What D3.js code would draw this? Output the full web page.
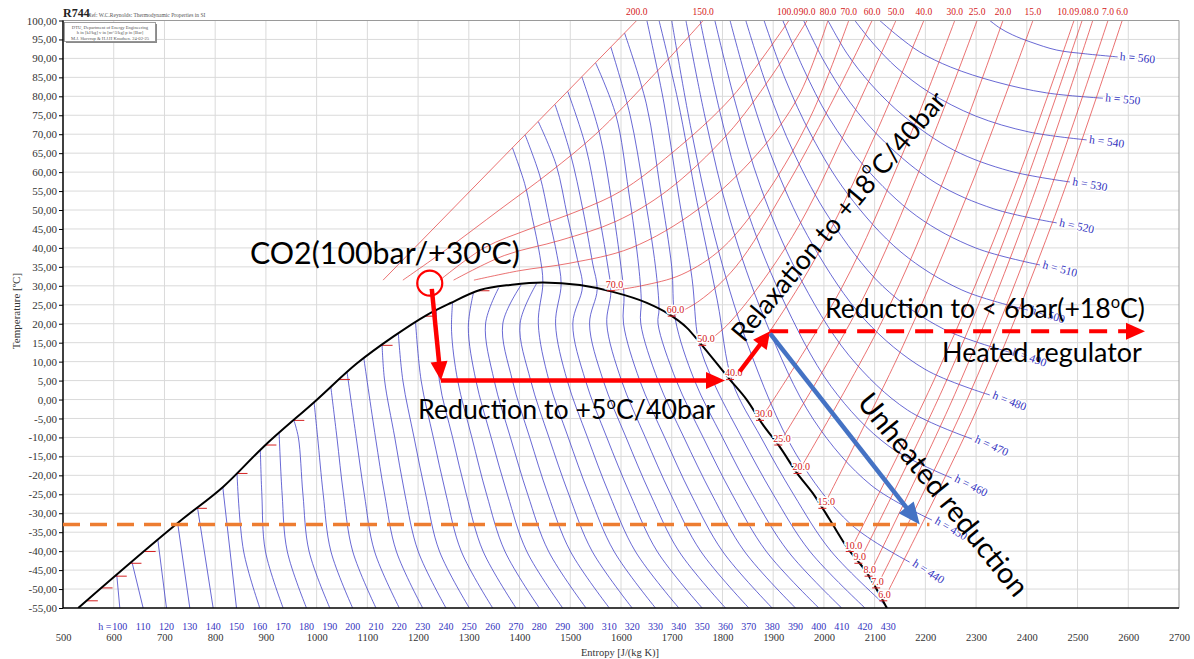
<!DOCTYPE html>
<html>
<head>
<meta charset="utf-8">
<script src="https://cdn.jsdelivr.net/npm/d3@7"></script>
<style>
  body { margin: 0; background: #fff; }
  svg { display: block; }
</style>
</head>
<body>
<svg id="chart" width="1194" height="659"></svg>
<script>
// ---------- axes ----------
const entropyTicks = [500, 600, 700, 800, 900, 1000, 1100, 1200, 1300, 1400, 1500, 1600,
  1700, 1800, 1900, 2000, 2100, 2200, 2300, 2400, 2500, 2600, 2700];
const temperatureTicks = [-55, -50, -45, -40, -35, -30, -25, -20, -15, -10, -5, 0, 5, 10, 15,
  20, 25, 30, 35, 40, 45, 50, 55, 60, 65, 70, 75, 80, 85, 90, 95, 100];

// ---------- saturation dome  [s J/(kg K), T degC] ----------
const saturatedLiquid = [[530, -55], [737, -31.4], [816, -23.0], [895, -12.5], [1000, -0.1],
  [1079, 9.5], [1151, 16.6], [1217, 22.3], [1263, 25.4], [1322, 28.9], [1385, 30.3], [1446, 30.9]];
const saturatedVapor = [[1446, 30.9], [1519, 30.2], [1584, 28.4], [1651, 25.5], [1691, 22.8],
  [1730, 18.9], [1756, 14.9], [1815, 5.2], [1848, -0.1], [1880, -6.7], [1913, -12.5],
  [1947, -19.4], [1978, -24.7], [2012, -31.8], [2045, -38.9], [2085, -45.8], [2124, -55]];

// ---------- isobars (bar) ----------
const isobarLevels = [6, 7, 8, 9, 10, 15, 20, 25, 30, 40, 50, 60, 70, 80, 90, 100, 150, 200];
const isobarPoints = [
  [[2117, -53.1], [2302, -2.5], [2455, 48.3], [2588, 100]],
  [[2103, -49.7], [2283, 0.2], [2432, 50.1], [2560, 100]],
  [[2088, -46.6], [2263, 2.9], [2407, 51.5], [2530, 100]],
  [[2068, -43.2], [2240, 4.5], [2384, 52.2], [2509, 100]],
  [[2051, -40.1], [2222, 6.6], [2368, 53.3], [2493, 100]],
  [[1997, -28.7], [2156, 14.2], [2292, 57.1], [2412, 100]],
  [[1948, -19.5], [2114, 20.5], [2244, 60.5], [2353, 100]],
  [[1910, -12.0], [2072, 25.3], [2195, 62.7], [2302, 100]],
  [[1874, -5.5], [2036, 29.7], [2155, 64.8], [2258, 100]],
  [[1815, 5.3], [1861, 12], [1983, 37.2], [2097, 68.6], [2197, 100]],
  [[1760, 14.3], [1812, 20], [1938, 43], [2045, 71.5], [2142, 100]],
  [[1700, 22], [1754, 26], [1826, 35], [1921, 55], [2012, 77.5], [2095, 100]],
  [[1580, 28.7], [1640, 30], [1720, 33], [1800, 40], [1890, 55], [1975, 75], [2049, 100]],
  [[1310, 31.5], [1400, 34], [1500, 36], [1620, 40], [1750, 50], [1870, 65], [1950, 80], [2008, 100]],
  [[1270, 31.5], [1370, 38], [1480, 42], [1590, 47], [1690, 55], [1810, 70], [1895, 85], [1967, 100]],
  [[1243, 31.5], [1330, 40], [1420, 45], [1520, 50], [1600, 55], [1700, 65], [1820, 80], [1931, 100]],
  [[1170, 31.5], [1260, 40], [1360, 50], [1460, 60], [1550, 70], [1660, 85], [1762, 100]],
  [[1131, 31.5], [1631, 100]]
];
// saturation temperature and liquid / vapour entropy for the subcritical isobars
const isobarSatT = [-53.1, -49.7, -46.6, -43.2, -40.1, -28.7, -19.5, -12.0, -5.5, 5.3, 14.3, 22.0, 28.7];
const isobarSatLiquidS = [547, 576, 604, 633, 661, 762, 842, 899, 954, 1044, 1128, 1214, 1319];
const isobarSatVaporS = [2117, 2103, 2088, 2068, 2051, 1997, 1948, 1910, 1874, 1815, 1760, 1700, 1580];

// ---------- isenthalps (kJ/kg) ----------
const isenthalpLevels = [100, 110, 120, 130, 140, 150, 160, 170, 180, 190, 200, 210, 220, 230,
  240, 250, 260, 270, 280, 290, 300, 310, 320, 330, 340, 350, 360, 370, 380, 390, 400, 410,
  420, 430, 440, 450, 460, 470, 480, 490, 500, 510, 520, 530, 540, 550, 560];
const isenthalpPoints = [
  [[612, -55], [606, -46.3]],
  [[658, -55], [636, -42.9]],
  [[704, -55], [687, -37.1]],
  [[750, -55], [726, -32.6]],
  [[796, -55], [765, -28.4]],
  [[842, -55], [815, -23.1]],
  [[888, -55], [856, -40], [843, -19.4]],
  [[934, -55], [899, -40], [892, -25], [889, -13.3]],
  [[980, -55], [942, -40], [932, -25], [926, -8.8]],
  [[1026, -55], [985, -40], [973, -25], [964, -10], [955, -5.4]],
  [[1071, -55], [1028, -40], [1013, -25], [1002, -10], [995, -0.7]],
  [[1117, -55], [1071, -40], [1053, -25], [1040, -10], [1028, 3.3]],
  [[1163, -55], [1114, -40], [1094, -25], [1078, -10], [1060, 7.2]],
  [[1209, -55], [1157, -40], [1134, -25], [1116, -10], [1093, 10.9]],
  [[1255, -55], [1200, -40], [1174, -25], [1154, -10], [1134, 5], [1129, 14.4]],
  [[1301, -55], [1242, -40], [1215, -25], [1192, -10], [1170, 5], [1161, 17.5]],
  [[1347, -55], [1285, -40], [1255, -25], [1230, -10], [1206, 5], [1195, 20.4]],
  [[1393, -55], [1328, -40], [1295, -25], [1268, -10], [1242, 5], [1236, 23.6]],
  [[1439, -55], [1371, -40], [1335, -25], [1306, -10], [1278, 5], [1266, 18], [1268, 25.7]],
  [[1485, -55], [1414, -40], [1376, -25], [1344, -10], [1314, 5], [1299, 19], [1309, 28.1]],
  [[1531, -55], [1457, -40], [1416, -25], [1382, -10], [1350, 5], [1333, 20], [1359, 29.5]],
  [[1577, -55], [1500, -40], [1456, -25], [1420, -10], [1386, 5], [1367, 20], [1403, 30.2]],
  [[1622, -55], [1543, -40], [1497, -25], [1458, -10], [1422, 5], [1401, 20], [1434, 30.7]],
  [[1668, -55], [1586, -40], [1537, -25], [1496, -10], [1458, 5], [1437, 20], [1446, 30.9], [1440, 38], [1425, 48], [1410, 57], [1386, 66.4]],
  [[1714, -55], [1628, -40], [1577, -25], [1534, -10], [1494, 5], [1471, 20], [1482, 30.5], [1474, 38], [1458, 48], [1440, 59], [1411, 69.8]],
  [[1760, -55], [1671, -40], [1618, -25], [1572, -10], [1530, 5], [1505, 20], [1524, 29.8], [1514, 37], [1495, 48], [1472, 62], [1437, 73.3]],
  [[1806, -55], [1714, -40], [1658, -25], [1610, -10], [1565, 5], [1538, 20], [1553, 29.05], [1544, 36], [1525, 50], [1500, 65], [1470, 77.8]],
  [[1852, -55], [1757, -40], [1698, -25], [1648, -10], [1601, 5], [1572, 20], [1580, 28.4], [1573, 36], [1555, 50], [1530, 67], [1495, 81.3]],
  [[1898, -55], [1800, -40], [1738, -25], [1686, -10], [1637, 5], [1605, 20], [1606, 27.45], [1600, 35], [1582, 52], [1558, 70], [1523, 85.1]],
  [[1944, -55], [1843, -40], [1779, -25], [1724, -10], [1673, 5], [1639, 20], [1640, 26], [1635, 35], [1615, 55], [1590, 75], [1550, 88.8]],
  [[1990, -55], [1886, -40], [1819, -25], [1762, -10], [1709, 5], [1673, 20], [1675, 23.9], [1668, 35], [1645, 55], [1618, 75], [1580, 93]],
  [[2035, -55], [1929, -40], [1859, -25], [1800, -10], [1745, 5], [1707, 21.2], [1700, 35], [1678, 55], [1650, 78], [1607, 96.7]],
  [[2081, -55], [1972, -40], [1900, -25], [1838, -10], [1781, 5], [1753, 15.4], [1740, 32], [1712, 55], [1685, 78], [1651, 100]],
  [[2127, -55], [2014, -40], [1940, -25], [1876, -10], [1820, 4.5], [1790, 26], [1750, 52], [1712, 79], [1675, 100]],
  [[1700, 100], [1738, 71.4], [1785, 42.9], [1850, 14.4], [1945, -14.4], [2053, -32.9], [2169, -42.9]],
  [[1728, 100], [1767, 73.7], [1815, 47.4], [1884, 21.0], [1980, -5.4], [2093, -22.6], [2213, -31.8]],
  [[1756, 100], [1795, 75.9], [1844, 51.8], [1915, 27.6], [2014, 3.5], [2128, -12.3], [2252, -20.7]],
  [[1785, 100], [1826, 78.0], [1876, 55.8], [1947, 33.6], [2049, 11.7], [2165, -2.8], [2292, -10.4]],
  [[1815, 100], [1856, 80.3], [1907, 60.6], [1978, 40.8], [2081, 21.0], [2199, 8.0], [2327, 1.2]],
  [[1846, 100], [1888, 82.5], [1941, 65.0], [2012, 47.6], [2116, 29.9], [2236, 18.6], [2366, 12.5]],
  [[1882, 100], [1923, 84.8], [1976, 69.5], [2047, 54.2], [2152, 38.9], [2272, 28.9], [2402, 23.6]],
  [[1919, 100], [1960, 87.2], [2010, 74.3], [2081, 61.3], [2183, 48.4], [2299, 40.0], [2426, 35.5]],
  [[1960, 100], [2000, 89.3], [2051, 78.5], [2120, 67.9], [2221, 57.1], [2335, 50.3], [2459, 46.6]],
  [[2008, 100], [2045, 91.4], [2094, 83.0], [2160, 74.5], [2256, 65.8], [2366, 60.3], [2485, 57.4]],
  [[2061, 100], [2098, 93.8], [2144, 87.5], [2207, 81.1], [2299, 74.8], [2404, 70.6], [2518, 68.5]],
  [[2110, 100], [2146, 95.9], [2189, 91.7], [2250, 87.7], [2339, 83.8], [2439, 80.9], [2550, 79.5]],
  [[2327, 100], [2347, 98.0], [2372, 96.2], [2408, 94.3], [2459, 92.2], [2516, 91.2], [2579, 90.4]]
];

// ---------- process path: CO2 cylinder expansion ----------
const stateStart = [1223, 30.7];        // 100 bar / +30 degC
const stateCooled = [1245, 5];          // after throttling, +5 degC
const stateVapor = [1805, 5];           // saturated vapour at 40 bar
const relaxFrom = [1834, 7.4];
const stateRelaxed = [1894, 18];        // +18 degC / 40 bar
const stateHeatedEnd = [2633, 18];      // below 6 bar, +18 degC
const stateUnheatedEnd = [2189, -33];   // unheated reduction end
const orangeLevel = [[500, -33], [2208, -33]];

// ---------- drawing ----------
const W = 1194, H = 659;
const x = d3.scaleLinear().domain([500, 2700]).range([63, 1179]);
const y = d3.scaleLinear().domain([-55, 100]).range([608, 20.5]);
const serif = "'Liberation Serif', 'Times New Roman', serif";
const sans = "Lato, 'Open Sans', sans-serif";

const svg = d3.select("#chart");
svg.append("rect").attr("width", W).attr("height", H).attr("fill", "#fff");
const defs = svg.append("defs");
defs.append("clipPath").attr("id", "plotClip").append("rect")
  .attr("x", x(500)).attr("y", y(100)).attr("width", x(2700) - x(500)).attr("height", y(-55) - y(100));

// grid
const grid = svg.append("g").attr("stroke", "#dadada").attr("stroke-width", 1);
grid.selectAll("line.v").data(entropyTicks.slice(1, -1)).join("line")
  .attr("x1", d => x(d)).attr("x2", d => x(d)).attr("y1", y(100)).attr("y2", y(-55));
grid.selectAll("line.h").data(temperatureTicks.slice(1, -1)).join("line")
  .attr("y1", d => y(d)).attr("y2", d => y(d)).attr("x1", x(500)).attr("x2", x(2700));

const plot = svg.append("g").attr("clip-path", "url(#plotClip)");
const curve = d3.line().x(d => x(d[0])).y(d => y(d[1])).curve(d3.curveCatmullRom.alpha(0.5));

// isenthalps
plot.append("g").selectAll("path").data(isenthalpPoints).join("path")
  .attr("d", curve).attr("fill", "none").attr("stroke", "#3a3ac6")
  .attr("stroke-width", 0.9).attr("stroke-opacity", 0.85);

// isobars
plot.append("g").selectAll("path").data(isobarPoints).join("path")
  .attr("d", curve).attr("fill", "none").attr("stroke", "#e23a3a")
  .attr("stroke-width", 0.85).attr("stroke-opacity", 0.85);

// small isobar marks on the saturated liquid line
plot.append("g").selectAll("line").data(isobarSatT).join("line")
  .attr("x1", (d, i) => x(isobarSatLiquidS[i])).attr("x2", (d, i) => x(isobarSatLiquidS[i]) + 11)
  .attr("y1", d => y(d)).attr("y2", d => y(d))
  .attr("stroke", "#d42020").attr("stroke-width", 1);

// saturation dome
const dome = saturatedLiquid.concat(saturatedVapor.slice(1));
plot.append("path").datum(dome)
  .attr("d", d3.line().x(d => x(d[0])).y(d => y(d[1])).curve(d3.curveMonotoneX))
  .attr("fill", "none").attr("stroke", "#000").attr("stroke-width", 2);

// isobar labels on the saturated vapour line
const satLabels = svg.append("g").attr("font-family", serif).attr("font-size", 10).attr("fill", "#d42020");
isobarSatT.forEach((t, i) => {
  const px = x(isobarSatVaporS[i]), py = y(t);
  satLabels.append("line").attr("x1", px - 4).attr("x2", px + 4).attr("y1", py).attr("y2", py)
    .attr("stroke", "#d42020").attr("stroke-width", 1);
  satLabels.append("text").attr("x", px - 5).attr("y", py - 3)
    .attr("stroke", "#fff").attr("stroke-width", 3).attr("paint-order", "stroke")
    .text(isobarLevels[i].toFixed(1));
});

// isobar labels along the top edge, nudged left where neighbours touch
const topLabels = svg.append("g").attr("font-family", serif).attr("font-size", 9.5).attr("fill", "#d42020")
  .attr("text-anchor", "middle")
  .selectAll("text").data(isobarPoints).join("text")
  .attr("x", d => x(d[d.length - 1][0])).attr("y", 15)
  .text((d, i) => isobarLevels[i].toFixed(1));
{
  const items = topLabels.nodes().map(n => ({ n, cx: +n.getAttribute("x"), w: n.getComputedTextLength() }))
    .sort((a, b) => a.cx - b.cx);
  for (let i = items.length - 2; i >= 0; i--) {
    const r = items[i + 1], l = items[i];
    const limit = r.cx - r.w / 2 - 0.5;
    if (l.cx + l.w / 2 > limit) l.cx = limit - l.w / 2;
  }
  items.forEach(it => it.n.setAttribute("x", it.cx));
}

// isenthalp labels under the bottom axis
const hBottom = svg.append("g").attr("font-family", serif).attr("font-size", 10).attr("fill", "#3434c0");
isenthalpPoints.forEach((pts, i) => {
  if (pts[0][1] !== -55) return;
  const px = x(pts[0][0]);
  hBottom.append("text").attr("x", px).attr("y", 630).attr("text-anchor", "middle").text(isenthalpLevels[i]);
  if (i === 0) hBottom.append("text").attr("x", px - 8.5).attr("y", 630).attr("text-anchor", "end").text("h =");
});

// isenthalp labels at the low-pressure end
const hEnd = svg.append("g").attr("font-family", serif).attr("font-size", 11.5).attr("fill", "#3434c0");
isenthalpPoints.forEach((pts, i) => {
  if (pts[0][1] !== 100 || isenthalpLevels[i] < 440) return;
  const a = pts[pts.length - 2], b = pts[pts.length - 1];
  const ang = Math.atan2(y(b[1]) - y(a[1]), x(b[0]) - x(a[0])) * 180 / Math.PI;
  hEnd.append("text")
    .attr("transform", `translate(${x(b[0]) + 2},${y(b[1]) + 3}) rotate(${ang})`)
    .attr("stroke", "#fff").attr("stroke-width", 2.5).attr("paint-order", "stroke")
    .text("h = " + isenthalpLevels[i]);
});

// axes
const yAxis = svg.append("g").attr("transform", `translate(${x(500)},0)`)
  .call(d3.axisLeft(y).tickValues(temperatureTicks).tickSize(4).tickPadding(2)
    .tickFormat(d => d.toFixed(2).replace(".", ",")));
yAxis.select(".domain").remove();
yAxis.selectAll("text").attr("font-family", serif).attr("font-size", 11).attr("fill", "#333");
yAxis.selectAll("line").attr("stroke", "#000");

const xAxis = svg.append("g").attr("transform", `translate(0,${y(-55)})`)
  .call(d3.axisBottom(x).tickValues(entropyTicks).tickSize(0).tickPadding(26).tickFormat(d => d));
xAxis.select(".domain").remove();
xAxis.selectAll("text").attr("font-family", serif).attr("font-size", 10.5).attr("fill", "#333");

// frame
svg.append("line").attr("x1", x(500)).attr("x2", x(2700)).attr("y1", y(100)).attr("y2", y(100))
  .attr("stroke", "#9a9a9a");
svg.append("line").attr("x1", x(2700)).attr("x2", x(2700)).attr("y1", y(100)).attr("y2", y(-55))
  .attr("stroke", "#9a9a9a");
svg.append("line").attr("x1", x(500)).attr("x2", x(2700)).attr("y1", y(-55)).attr("y2", y(-55))
  .attr("stroke", "#000").attr("stroke-width", 1.5);
svg.append("line").attr("x1", x(500)).attr("x2", x(500)).attr("y1", y(100)).attr("y2", y(-55))
  .attr("stroke", "#000").attr("stroke-width", 1.5);

// axis titles
svg.append("text").attr("x", 620).attr("y", 656).attr("text-anchor", "middle")
  .attr("font-family", serif).attr("font-size", 10.5).attr("fill", "#333").text("Entropy [J/(kg K)]");
svg.append("text").attr("transform", "translate(20,311) rotate(-90)").attr("text-anchor", "middle")
  .attr("font-family", serif).attr("font-size", 11).attr("fill", "#333").text("Temperature [ºC]");

// header and info box
svg.append("text").attr("x", 63).attr("y", 17).attr("font-family", serif).attr("font-size", 12)
  .attr("font-weight", "bold").attr("fill", "#222").text("R744");
svg.append("text").attr("x", 88).attr("y", 16.5).attr("font-family", serif).attr("font-size", 5.5)
  .attr("fill", "#555").text("Ref: W.C.Reynolds: Thermodynamic Properties in SI");
svg.append("rect").attr("x", 66).attr("y", 24).attr("width", 91).attr("height", 19).attr("fill", "#8a8a8a");
svg.append("rect").attr("x", 64.5).attr("y", 22.5).attr("width", 91).attr("height", 19)
  .attr("fill", "#fff").attr("stroke", "#888").attr("stroke-width", 0.8);
["DTU, Department of Energy Engineering", "h in [kJ/kg]  v in [m^3/kg]  p in [Bar]",
  "M.J. Skovrup & H.J.H Knudsen. 24-02-25"].forEach((t, i) => {
  svg.append("text").attr("x", 110).attr("y", 28.5 + i * 5.6).attr("text-anchor", "middle")
    .attr("font-family", serif).attr("font-size", 4.6).attr("fill", "#555").text(t);
});

// ---------- process annotations ----------
const ann = svg.append("g");
function pxy(p) { return [x(p[0]), y(p[1])]; }
function arrow(from, to, color, width, headLen, headHalf, dash) {
  const a = pxy(from), b = pxy(to);
  const dx = b[0] - a[0], dy = b[1] - a[1], L = Math.hypot(dx, dy);
  const ux = dx / L, uy = dy / L;
  const base = [b[0] - ux * headLen, b[1] - uy * headLen];
  ann.append("line").attr("x1", a[0]).attr("y1", a[1]).attr("x2", base[0] + ux * 2).attr("y2", base[1] + uy * 2)
    .attr("stroke", color).attr("stroke-width", width).attr("stroke-dasharray", dash || null);
  ann.append("path").attr("fill", color)
    .attr("d", `M${b[0]},${b[1]}L${base[0] - uy * headHalf},${base[1] + ux * headHalf}L${base[0] + uy * headHalf},${base[1] - ux * headHalf}Z`);
}
// reference temperature line
ann.append("path").datum(orangeLevel).attr("d", d3.line().x(d => x(d[0])).y(d => y(d[1])))
  .attr("stroke", "#ed7d31").attr("stroke-width", 3.5).attr("stroke-dasharray", "17,10").attr("fill", "none");
// circle around the cylinder state
ann.append("circle").attr("cx", x(stateStart[0])).attr("cy", y(stateStart[1])).attr("r", 12.5)
  .attr("fill", "none").attr("stroke", "#ff0000").attr("stroke-width", 2.2);
arrow([stateStart[0] + 4, stateStart[1] - 1.5], stateCooled, "#ff0000", 4.5, 19, 8.5);
arrow(stateCooled, stateVapor, "#ff0000", 4.5, 19, 8.5);
arrow(relaxFrom, stateRelaxed, "#ff0000", 4.5, 17, 8.5);
arrow(stateRelaxed, stateHeatedEnd, "#ff0000", 4, 19, 8.5, "18,11");
arrow([stateRelaxed[0], stateRelaxed[1] - 0.6], stateUnheatedEnd, "#4472c4", 4.5, 22, 9.5);

// annotation texts (sized to their laid-out widths)
function note(text, width, transform, anchor, baseline) {
  const t = ann.append("text").attr("font-family", sans).attr("font-size", 24).attr("fill", "#000")
    .attr("transform", transform).attr("text-anchor", anchor)
    .attr("dominant-baseline", baseline || "alphabetic").text(text);
  const w = t.node().getComputedTextLength();
  t.attr("font-size", 24 * width / w);
  return t;
}
function noteSup(pre, post, width, transform, anchor, baseline) {
  const t = ann.append("text").attr("font-family", sans).attr("font-size", 24).attr("fill", "#000")
    .attr("transform", transform).attr("text-anchor", anchor)
    .attr("dominant-baseline", baseline || "alphabetic");
  t.append("tspan").text(pre);
  t.append("tspan").attr("font-size", "0.62em").attr("baseline-shift", "super").text("o");
  t.append("tspan").text(post);
  const w = t.node().getComputedTextLength();
  t.attr("font-size", 24 * width / w);
  return t;
}
noteSup("CO2(100bar/+30", "C)", 270, "translate(250,264)", "start");
noteSup("Reduction to +5", "C/40bar", 297, "translate(418,419)", "start");
noteSup("Reduction to < 6bar(+18", "C)", 320, "translate(825,318)", "start");
note("Heated regulator", 200, "translate(942,362)", "start");
noteSup("Relaxation to +18", "C/40bar", 316, "translate(838,216) rotate(-50)", "middle", "central");
note("Unheated reduction", 252, "translate(944,494) rotate(51)", "middle", "central");
</script>
</body>
</html>
